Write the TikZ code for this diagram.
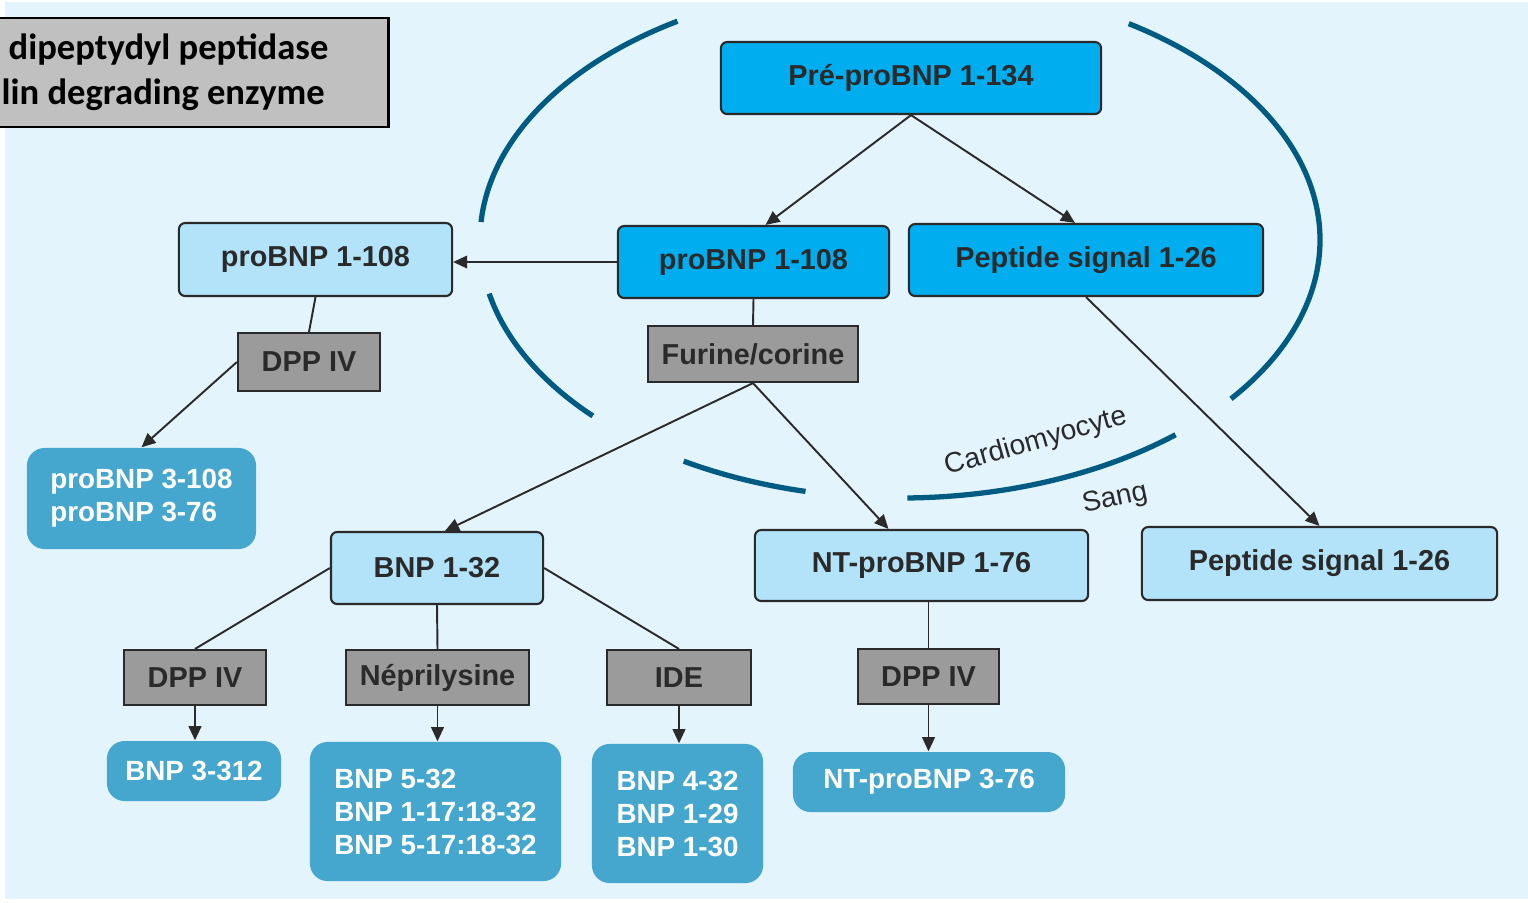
\documentclass[tikz,border=0pt]{standalone}
\usepackage{fontspec}
\setsansfont{Liberation Sans}
\newfontfamily\carlito{Carlito}
\usetikzlibrary{arrows.meta, positioning}

\definecolor{bgblue}{HTML}{E3F4FD}
\definecolor{cyandark}{HTML}{00ADEF}
\definecolor{cyanlight}{HTML}{B2E3F8}
\definecolor{bluemid}{HTML}{45A7CE}
\definecolor{enzgray}{HTML}{9B9B9B}
\definecolor{legendgray}{HTML}{C0C0C0}
\definecolor{membrane}{HTML}{005B82}
\definecolor{ink}{HTML}{2A2A2A}

\begin{document}
\begin{tikzpicture}[
  x=0.01cm, y=-0.01cm,
  lbl/.style={font=\fontsize{8.2}{10}\selectfont\sffamily\bfseries, text=ink, inner sep=0pt},
  box/.style={lbl, draw=ink, line width=0.6pt, rounded corners=1.8pt},
  darkbox/.style={box, fill=cyandark},
  lightbox/.style={box, fill=cyanlight},
  enzyme/.style={lbl, draw=ink, line width=0.6pt, fill=enzgray},
  product/.style={lbl, fill=bluemid, text=white, rounded corners=5pt, align=left,
    font=\fontsize{7.9}{9.4}\selectfont\sffamily\bfseries},
  link/.style={draw=ink, line width=0.55pt},
  arr/.style={link, -{Triangle[length=4pt, width=3.6pt]}},
  arc line/.style={draw=membrane, line width=1.5pt},
  side/.style={font=\fontsize{8}{10}\selectfont\sffamily, text=ink, inner sep=0pt},
]
\useasboundingbox (0,0) rectangle (1528,902);
\fill[bgblue] (5,2) rectangle (1528,899);

% Legend (cut at the left border)
\node[draw=black, line width=0.8pt, fill=legendgray, anchor=west,
  minimum width=3.97cm, minimum height=1.09cm] (legend) at (-10,72.5) {};
\node[anchor=west, inner sep=0pt, align=left, text=black,
  font=\fontsize{10.4}{12.8}\selectfont\carlito\bfseries]
  (legendtxt) at ([xshift=0.11cm]legend.west) {\hspace{0.07cm}dipeptydyl peptidase\\lin degrading enzyme};

% Cell membrane
\coordinate (ctr) at (900,240);
\foreach \a/\b in {238/184, 168/137, 121/103, 89/49, 38/-57}
  \draw[arc line] (ctr) ++(\a:420 and 258) arc[start angle=\a, end angle=\b, x radius=420, y radius=258];
\node[side, rotate=16] (cardio) at (1036,442) {Cardiomyocyte};
\node[side, rotate=12] (sang) at (1115,499) {Sang};

% Inside the cardiomyocyte
\node[darkbox, minimum width=3.80cm, minimum height=0.72cm] (pre) at (911,78) {Pré-proBNP 1-134};
\node[darkbox, minimum width=2.71cm, minimum height=0.72cm] (pbd) at (753.5,262) {proBNP 1-108};
\node[darkbox, minimum width=3.54cm, minimum height=0.72cm] (psd) at (1086,260) {Peptide signal 1-26};
\node[enzyme, minimum width=2.10cm, minimum height=0.56cm] (fur) at (753,354) {Furine/corine};

% In the blood
\node[lightbox, minimum width=2.73cm, minimum height=0.73cm] (pbl) at (315.5,259.5) {proBNP 1-108};
\node[enzyme, minimum width=1.42cm, minimum height=0.58cm] (dppA) at (309,362) {DPP IV};
\node[product, minimum width=2.29cm, minimum height=1.01cm] (p3) at (141.5,498.5) {proBNP 3-108\\proBNP 3-76};
\node[lightbox, minimum width=2.12cm, minimum height=0.72cm] (bnp) at (437,568) {BNP 1-32};
\node[lightbox, minimum width=3.33cm, minimum height=0.71cm] (nt) at (921.5,565.5) {NT-proBNP 1-76};
\node[lightbox, minimum width=3.55cm, minimum height=0.73cm] (psl) at (1319.5,563.5) {Peptide signal 1-26};

\node[enzyme, minimum width=1.42cm, minimum height=0.55cm] (dppB) at (195,677.5) {DPP IV};
\node[enzyme, minimum width=1.83cm, minimum height=0.55cm] (nep) at (437.5,677.5) {Néprilysine};
\node[enzyme, minimum width=1.44cm, minimum height=0.55cm] (ide) at (679,677.5) {IDE};
\node[enzyme, minimum width=1.41cm, minimum height=0.55cm] (dppC) at (928.5,676.5) {DPP IV};

\node[product, minimum width=1.74cm, minimum height=0.60cm] (b3) at (194,771) {BNP 3-312};
\node[product, minimum width=2.51cm, minimum height=1.39cm] (b5) at (435.5,811.5) {BNP 5-32\\BNP 1-17:18-32\\BNP 5-17:18-32};
\node[product, minimum width=1.71cm, minimum height=1.39cm] (b4) at (677.5,813.5) {BNP 4-32\\BNP 1-29\\BNP 1-30};
\node[product, minimum width=2.72cm, minimum height=0.60cm] (nt3) at (929,782) {NT-proBNP 3-76};

% Connectors
\draw[arr] (pre.south) -- ([xshift=0.12cm]pbd.north);
\draw[arr] (pre.south) -- ([xshift=-0.11cm]psd.north);
\draw[arr] (pbd.west) -- (pbd.west -| pbl.east);
\draw[link] (pbd.south) -- (fur.north);
\draw[link] (pbl.south) -- (dppA.north);
\draw[arr] (dppA.west) -- (p3.north);
\draw[arr] (fur.south) -- ([xshift=0.08cm]bnp.north);
\draw[arr] (fur.south) -- ([xshift=-0.33cm]nt.north);
\draw[arr] (psd.south) -- (psl.north);
\draw[link] (bnp.west) -- (dppB.north);
\draw[link] (bnp.south) -- (nep.north);
\draw[link] (bnp.east) -- (ide.north);
\draw[link] (dppC.north |- nt.south) -- (dppC.north);
\foreach \e/\p in {dppB/b3, nep/b5, ide/b4, dppC/nt3}
  \draw[arr] (\e.south) -- (\e.south |- \p.north);

\end{tikzpicture}
\end{document}
